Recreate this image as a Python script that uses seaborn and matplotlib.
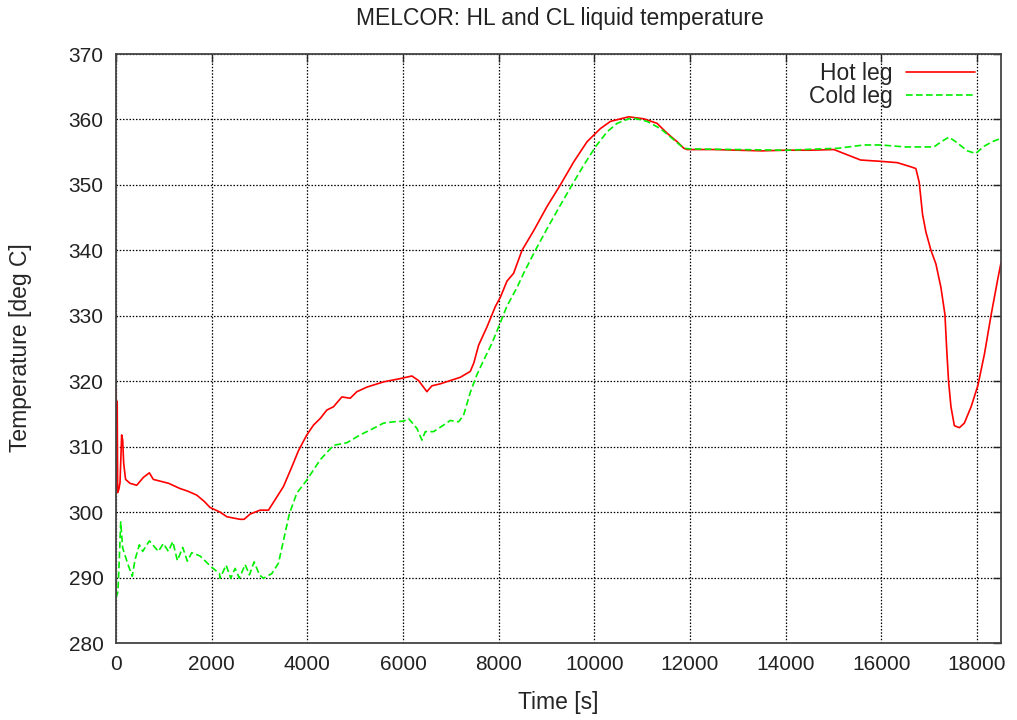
import matplotlib
matplotlib.use("Agg")
import matplotlib.pyplot as plt
import seaborn as sns
import pandas as pd
import numpy as np

hot_time = [0, 8, 15, 25, 35, 60, 84, 118, 140, 160, 200, 293, 433, 572, 697, 780, 886,
            1100, 1339, 1500, 1688, 1850, 1967, 2176, 2315, 2450, 2594, 2678, 2803, 3012,
            3187, 3361, 3500, 3675, 3815, 3989, 4129, 4268, 4408, 4547, 4721, 4896, 5035,
            5244, 5593, 5941, 6185, 6325, 6499, 6604, 6778, 6987, 7197, 7406, 7480, 7580,
            7755, 7929, 8033, 8173, 8312, 8487, 8731, 9010, 9289, 9567, 9847, 10125, 10335,
            10550, 10718, 11032, 11311, 11520, 11729, 11869, 11939, 12500, 13000, 13500,
            14000, 14500, 15007, 15286, 15565, 15983, 16331, 16600, 16720, 16790, 16860,
            16930, 17036, 17140, 17245, 17328, 17370, 17405, 17454, 17525, 17630, 17734,
            17875, 18015, 18155, 18295, 18435, 18500]
hot_temp = [319.0, 303.5, 317.0, 316.5, 303.0, 303.5, 304.5, 311.8, 311.0, 307.5, 305.0,
            304.4, 304.1, 305.3, 306.0, 305.0, 304.8, 304.4, 303.6, 303.2, 302.6, 301.6,
            300.7, 300.0, 299.3, 299.1, 298.9, 298.9, 299.7, 300.3, 300.3, 302.3, 303.9,
            306.9, 309.4, 311.8, 313.3, 314.3, 315.6, 316.1, 317.6, 317.4, 318.4, 319.1,
            319.9, 320.4, 320.8, 320.1, 318.4, 319.3, 319.6, 320.1, 320.6, 321.5, 322.8,
            325.5, 328.3, 331.4, 332.8, 335.3, 336.5, 340.0, 343.0, 346.7, 350.0, 353.5,
            356.6, 358.6, 359.7, 360.1, 360.4, 360.1, 359.4, 357.9, 356.6, 355.6, 355.4,
            355.4, 355.3, 355.2, 355.3, 355.3, 355.4, 354.6, 353.8, 353.6, 353.4, 352.8,
            352.5, 350.4, 345.5, 342.8, 340.0, 337.9, 334.3, 330.2, 324.2, 319.9, 316.1,
            313.2, 312.9, 313.6, 316.1, 319.3, 324.2, 330.2, 335.7, 338.1]

cold_time = [0, 5, 40, 70, 98, 140, 250, 340, 397, 488, 558, 697, 886, 990, 1095, 1186,
             1283, 1395, 1492, 1583, 1757, 1967, 2162, 2176, 2301, 2399, 2490, 2580, 2699,
             2789, 2887, 2999, 3082, 3256, 3396, 3487, 3626, 3780, 3989, 4268, 4547, 4826,
             5105, 5383, 5593, 5802, 6011, 6116, 6290, 6395, 6465, 6639, 6848, 6987, 7162,
             7266, 7406, 7545, 7685, 7859, 7998, 8173, 8382, 8521, 8766, 9010, 9289, 9533,
             9777, 10021, 10265, 10474, 10718, 10823, 11102, 11381, 11660, 11869, 12000,
             13000, 14000, 14728, 15100, 15634, 15983, 16500, 17099, 17250, 17413, 17552,
             17797, 17971, 18145, 18319, 18494]
cold_temp = [291.7, 287.0, 287.8, 293.0, 298.5, 294.5, 292.0, 290.2, 292.7, 295.0, 294.0,
             295.6, 294.0, 295.2, 294.0, 295.5, 292.6, 294.6, 292.5, 293.8, 293.3, 291.8,
             290.6, 289.9, 291.9, 289.9, 291.4, 289.9, 292.0, 290.4, 292.4, 290.4, 289.9,
             290.6, 292.2, 295.2, 299.8, 302.9, 304.9, 308.0, 310.2, 310.6, 311.8, 312.8,
             313.6, 313.8, 313.9, 314.3, 312.8, 311.0, 312.3, 312.3, 313.3, 314.0, 313.8,
             314.8, 318.3, 321.0, 323.2, 325.8, 328.3, 331.5, 334.3, 336.5, 340.0, 343.3,
             346.9, 350.0, 353.0, 355.8, 358.1, 359.4, 360.1, 360.2, 359.7, 358.6, 356.9,
             355.6, 355.5, 355.4, 355.3, 355.5, 355.6, 356.1, 356.1, 355.8, 355.8, 356.6,
             357.3, 356.6, 355.2, 354.8, 355.9, 356.6, 357.1]

x_ticks = [0, 2000, 4000, 6000, 8000, 10000, 12000, 14000, 16000, 18000]
y_ticks = [280, 290, 300, 310, 320, 330, 340, 350, 360, 370]

title = "MELCOR: HL and CL liquid temperature"
xlabel = "Time [s]"
ylabel = "Temperature [deg C]"

sns.set_style("white")
plt.rcParams['font.family'] = ['Liberation Sans', 'DejaVu Sans']
FS = 15
LFS = 16.5

fig = plt.figure(figsize=(10.17, 7.2), dpi=100)
ax = fig.add_axes([116/1017, 1 - 643/720, (1001 - 116)/1017, (643 - 54)/720])

hot_df = pd.DataFrame({"t": hot_time, "T": hot_temp})
cold_df = pd.DataFrame({"t": cold_time, "T": cold_temp})

sns.lineplot(data=hot_df, x="t", y="T", ax=ax, color="#ff0000", lw=1.2,
             label="Hot leg", sort=False, estimator=None)
sns.lineplot(data=cold_df, x="t", y="T", ax=ax, color="#00f000", lw=1.2,
             label="Cold leg", sort=False, estimator=None, dashes=False)
ax.lines[1].set_dashes([4, 2])

ax.set_xlim(0, 18500)
ax.set_ylim(280, 370)
ax.set_xticks(x_ticks)
ax.set_yticks(y_ticks)
ax.grid(True, color="black", linestyle=(0, (1.2, 1.4)), linewidth=0.9)
ax.set_axisbelow(True)
ax.tick_params(direction="in", length=6, width=1.0, top=True, right=True,
               labelsize=FS, colors="#222222", pad=9)
for s in ax.spines.values():
    s.set_color("#444444")
    s.set_linewidth(1.3)
    s.set_visible(True)

ax.set_xlabel(xlabel, fontsize=LFS)
ax.set_ylabel(ylabel, fontsize=LFS)
ax.xaxis.set_label_coords((558 - 116) / 885, (643 - 703) / 589)
ax.yaxis.set_label_coords((20 - 116) / 885, (643 - 348) / 589)
ax.xaxis.label.set_va("center")
ax.yaxis.label.set_va("center")
fig.text(560 / 1017, 1 - 18 / 720, title, fontsize=LFS, ha="center", va="center",
         color="#222222")

leg = ax.legend(loc="upper right", bbox_to_anchor=(975/1017, 1 - 62/720),
                bbox_transform=fig.transFigure, frameon=False, markerfirst=False,
                fontsize=LFS, handlelength=3.0, handletextpad=0.6, labelspacing=0.02,
                borderpad=0, borderaxespad=0)

fig.savefig("out.png", dpi=100)
